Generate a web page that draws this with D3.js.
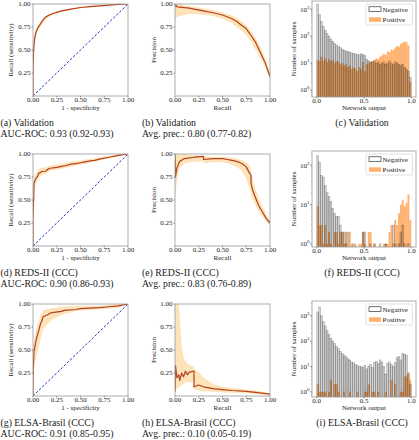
<!DOCTYPE html>
<html><head><meta charset="utf-8">
<script src="https://cdn.jsdelivr.net/npm/d3@7"></script>
<style>
body{margin:0;background:#fff}
svg text{font-family:'Liberation Serif','DejaVu Serif',serif !important;fill:#1a1a1a}
</style>
</head><body>
<svg id="c" width="419" height="440" font-family="Liberation Serif, DejaVu Serif, serif"></svg>
<script>
// ---------- ROC curves ----------
const rocValX  = [0, 0, 0.005, 0.01, 0.02, 0.03, 0.05, 0.07, 0.10, 0.13, 0.17, 0.22, 0.30, 0.40, 0.50, 0.60, 0.70, 0.80, 0.90, 1.00];
const rocValY  = [0, 0.30, 0.45, 0.55, 0.64, 0.69, 0.74, 0.77, 0.82, 0.855, 0.88, 0.90, 0.925, 0.945, 0.962, 0.972, 0.98, 0.988, 0.995, 1.0];
const rocValLo = [0, 0.25, 0.40, 0.50, 0.60, 0.65, 0.70, 0.74, 0.79, 0.83, 0.86, 0.885, 0.91, 0.935, 0.953, 0.965, 0.975, 0.984, 0.992, 1.0];
const rocValHi = [0, 0.35, 0.50, 0.59, 0.67, 0.72, 0.76, 0.79, 0.835, 0.865, 0.89, 0.91, 0.932, 0.952, 0.968, 0.977, 0.984, 0.991, 0.997, 1.0];

const rocRedsX  = [0, 0, 0.01, 0.01, 0.02, 0.035, 0.05, 0.06, 0.08, 0.09, 0.14, 0.15, 0.18, 0.25, 0.30, 0.35, 0.40, 0.45, 0.50, 0.55, 0.60, 0.65, 0.70, 0.80, 0.90, 1.0];
const rocRedsY  = [0, 0.30, 0.60, 0.68, 0.71, 0.74, 0.76, 0.79, 0.80, 0.81, 0.815, 0.83, 0.845, 0.855, 0.865, 0.875, 0.89, 0.895, 0.905, 0.915, 0.925, 0.93, 0.945, 0.965, 0.985, 1.0];
const rocRedsLo = [0, 0.20, 0.50, 0.60, 0.65, 0.69, 0.72, 0.75, 0.76, 0.775, 0.785, 0.80, 0.815, 0.83, 0.84, 0.85, 0.865, 0.875, 0.885, 0.895, 0.905, 0.915, 0.93, 0.95, 0.975, 1.0];
const rocRedsHi = [0, 0.40, 0.68, 0.74, 0.77, 0.80, 0.82, 0.84, 0.845, 0.85, 0.855, 0.865, 0.875, 0.885, 0.895, 0.905, 0.915, 0.92, 0.93, 0.94, 0.945, 0.955, 0.965, 0.98, 0.993, 1.0];

const rocElsaX  = [0, 0, 0.01, 0.03, 0.04, 0.065, 0.08, 0.095, 0.105, 0.12, 0.15, 0.18, 0.22, 0.30, 0.33, 0.45, 0.50, 0.70, 0.80, 0.90, 0.95, 1.0];
const rocElsaY  = [0, 0.20, 0.48, 0.59, 0.64, 0.73, 0.79, 0.82, 0.86, 0.87, 0.88, 0.90, 0.91, 0.92, 0.93, 0.94, 0.95, 0.96, 0.97, 0.98, 0.99, 1.0];
const rocElsaLo = [0, 0.10, 0.30, 0.40, 0.45, 0.55, 0.62, 0.68, 0.72, 0.74, 0.78, 0.81, 0.84, 0.88, 0.89, 0.92, 0.93, 0.94, 0.95, 0.96, 0.98, 1.0];
const rocElsaHi = [0, 0.35, 0.60, 0.70, 0.75, 0.83, 0.88, 0.91, 0.93, 0.935, 0.945, 0.95, 0.96, 0.97, 0.975, 0.98, 0.98, 0.98, 0.99, 1.0, 1.0, 1.0];

// ---------- Precision-recall curves ----------
const prValX  = [0, 0.01, 0.02, 0.05, 0.10, 0.15, 0.20, 0.30, 0.40, 0.50, 0.60, 0.65, 0.70, 0.75, 0.80, 0.85, 0.90, 0.95, 1.0];
const prValY  = [0.97, 0.99, 0.97, 0.965, 0.96, 0.955, 0.945, 0.925, 0.905, 0.88, 0.84, 0.81, 0.77, 0.73, 0.66, 0.58, 0.47, 0.36, 0.21];
const prValLo = [0.80, 0.85, 0.86, 0.87, 0.88, 0.89, 0.89, 0.88, 0.87, 0.84, 0.79, 0.75, 0.71, 0.66, 0.59, 0.50, 0.41, 0.31, 0.19];
const prValHi = [1.0, 1.0, 1.0, 1.0, 0.985, 0.975, 0.97, 0.955, 0.935, 0.91, 0.875, 0.85, 0.81, 0.77, 0.71, 0.63, 0.53, 0.41, 0.25];

const prRedsX  = [0, 0.005, 0.02, 0.05, 0.10, 0.20, 0.30, 0.30, 0.40, 0.50, 0.55, 0.60, 0.65, 0.70, 0.75, 0.78, 0.80, 0.80, 0.82, 0.85, 0.88, 0.92, 0.96, 1.0];
const prRedsY  = [1.0, 0.75, 0.85, 0.92, 0.95, 0.965, 0.975, 0.94, 0.95, 0.95, 0.94, 0.93, 0.92, 0.90, 0.86, 0.80, 0.77, 0.68, 0.60, 0.52, 0.44, 0.37, 0.30, 0.25];
const prRedsLo = [0.50, 0.55, 0.70, 0.85, 0.90, 0.915, 0.92, 0.90, 0.91, 0.91, 0.90, 0.88, 0.86, 0.82, 0.73, 0.64, 0.58, 0.55, 0.50, 0.44, 0.38, 0.32, 0.27, 0.22];
const prRedsHi = [1.0, 1.0, 1.0, 1.0, 1.0, 0.985, 0.98, 0.975, 0.97, 0.97, 0.965, 0.96, 0.95, 0.935, 0.91, 0.88, 0.84, 0.80, 0.72, 0.62, 0.52, 0.43, 0.35, 0.27];

const prElsaX  = [0, 0.005, 0.02, 0.04, 0.05, 0.07, 0.09, 0.11, 0.13, 0.15, 0.20, 0.20, 0.25, 0.30, 0.40, 0.50, 0.60, 0.75, 0.85, 1.0];
const prElsaY  = [0.05, 0.33, 0.20, 0.23, 0.17, 0.25, 0.21, 0.27, 0.23, 0.26, 0.27, 0.10, 0.12, 0.10, 0.08, 0.07, 0.06, 0.05, 0.04, 0.02];
const prElsaLo = [0.0, 0.05, 0.08, 0.10, 0.10, 0.12, 0.13, 0.15, 0.15, 0.15, 0.14, 0.07, 0.06, 0.05, 0.045, 0.04, 0.035, 0.03, 0.02, 0.01];
const prElsaHi = [1.0, 1.0, 1.0, 1.0, 0.85, 0.55, 0.42, 0.38, 0.35, 0.34, 0.32, 0.30, 0.26, 0.20, 0.13, 0.10, 0.09, 0.07, 0.06, 0.03];

// ---------- Histograms (50 bins of width 0.02 over [0,1]) ----------
const histValNeg  = [1550, 620, 350, 235, 165, 125, 100, 78, 64, 54, 47, 41, 37, 33, 30, 28, 27, 25, 24, 23, 22, 21, 20, 22, 21, 19, 14, 12, 11, 11, 12, 10, 11, 9, 10, 11, 9, 10, 12, 10, 9, 11, 10, 9, 8, 9, 7, 6, 5, 3];
const histValPos  = [13, 12, 17, 12, 15, 11, 14, 12, 13, 10, 12, 11, 9, 10, 8, 9, 7, 8, 6, 7, 6, 5, 7, 6, 11, 5, 9, 10, 11, 12, 13, 15, 14, 17, 19, 22, 20, 27, 25, 32, 30, 37, 44, 40, 52, 58, 62, 60, 45, 2];
const histRedsNeg = [175, 120, 55, 50, 30, 20, 16, 12, 8, 6, 5, 5, 3, 2, 2, 1, 2, 0, 0, 1, 0, 0, 0, 0, 2, 2, 0, 0, 1, 0, 1, 0, 0, 1, 0, 0, 1, 0, 0, 0, 3, 1, 0, 1, 2, 3, 1, 0, 1, 0];
const histRedsPos = [9, 3, 3, 1, 3, 1, 2, 1, 0, 2, 2, 1, 2, 2, 1, 2, 0, 2, 1, 0, 1, 0, 1, 1, 2, 1, 0, 2, 2, 0, 1, 0, 0, 0, 0, 1, 1, 1, 2, 3, 1, 4, 3, 6, 10, 13, 9, 11, 18, 4];
const histElsaNeg = [1400, 2200, 1000, 600, 400, 260, 180, 130, 100, 80, 62, 50, 40, 33, 28, 24, 20, 18, 15, 14, 12, 11, 10, 10, 9, 11, 8, 10, 12, 9, 14, 16, 13, 18, 15, 10, 5, 13, 15, 12, 10, 14, 22, 25, 18, 32, 30, 28, 5, 2];
const histElsaPos = [2, 1, 1, 1, 1, 0, 1, 3, 0, 2, 2, 1, 0, 0, 1, 0, 0, 1, 0, 0, 0, 1, 0, 0, 0, 1, 1, 2, 0, 1, 1, 0, 1, 0, 0, 0, 1, 0, 0, 3, 0, 2, 0, 0, 1, 1, 4, 4, 6, 3];
const binStarts = d3.range(50).map(i => i / 50);

// ---------- Texts / ticks ----------
const unitTicks = [0, 0.25, 0.5, 0.75, 1];
const histXTicks = [0, 0.5, 1];
const legendLabels = ["Negative", "Positive"];
const captionsRoc  = [["(a) Validation", "AUC-ROC: 0.93 (0.92-0.93)"], ["(d) REDS-II (CCC)", "AUC-ROC: 0.90 (0.86-0.93)"], ["(g) ELSA-Brasil (CCC)", "AUC-ROC: 0.91 (0.85-0.95)"]];
const captionsPr   = [["(b) Validation", "Avg. prec.: 0.80 (0.77-0.82)"], ["(e) REDS-II (CCC)", "Avg. prec.: 0.83 (0.76-0.89)"], ["(h) ELSA-Brasil (CCC)", "Avg. prec.: 0.10 (0.05-0.19)"]];
const captionsHist = ["(c) Validation", "(f) REDS-II (CCC)", "(i) ELSA-Brasil (CCC)"];
const histYDomains = [[0.55, 2000], [0.83, 230], [0.62, 3800]];

const rocData = [[rocValX, rocValY, rocValLo, rocValHi], [rocRedsX, rocRedsY, rocRedsLo, rocRedsHi], [rocElsaX, rocElsaY, rocElsaLo, rocElsaHi]];
const prData  = [[prValX, prValY, prValLo, prValHi], [prRedsX, prRedsY, prRedsLo, prRedsHi], [prElsaX, prElsaY, prElsaLo, prElsaHi]];
const histData = [[histValNeg, histValPos], [histRedsNeg, histRedsPos], [histElsaNeg, histElsaPos]];

// ---------- Style ----------
const FONT = "'Liberation Serif', 'DejaVu Serif', serif";
const LINE = "#b5401c", BAND = "#fcd08a", DIAG = "#2a2ac4", ORANGE = "#ff7f0e", FRAME = "#9a9a9a";
const svg = d3.select("#c");
const fmt2 = d3.format(".2f"), fmt1 = d3.format(".1f");
function txt(g, x, y, s, size, anchor) {
  return g.append("text").attr("x", x).attr("y", y).attr("font-size", size)
    .attr("text-anchor", anchor || "start").style("font-family", FONT).text(s);
}

function curvePanel(row, x0, x1, data, xlabel, ylabel, ylabelX, diag, caps, capX) {
  const top = 4 + 150 * row, bot = 96 + 150 * row;
  const x = d3.scaleLinear().domain([0, 1]).range([x0, x1]);
  const y = d3.scaleLinear().domain([0, 1]).range([bot, top]);
  const g = svg.append("g");
  const cid = "clip" + row + "_" + x0;
  svg.append("clipPath").attr("id", cid).append("rect").attr("x", x0).attr("y", top).attr("width", x1 - x0).attr("height", bot - top);
  const [xs, ys, lo, hi] = data;
  const idx = d3.range(xs.length);
  const inner = g.append("g").attr("clip-path", `url(#${cid})`);
  inner.append("path").datum(idx)
    .attr("d", d3.area().x(i => x(xs[i])).y0(i => y(lo[i])).y1(i => y(hi[i])))
    .attr("fill", BAND).attr("fill-opacity", 0.6);
  if (diag) {
    inner.append("path").datum([0, 1])
      .attr("d", d3.line().x(d => x(d)).y(d => y(d)))
      .attr("stroke", DIAG).attr("stroke-width", 1).attr("stroke-dasharray", "2.5,1.8").attr("fill", "none");
  }
  inner.append("path").datum(idx)
    .attr("d", d3.line().x(i => x(xs[i])).y(i => y(ys[i])))
    .attr("stroke", LINE).attr("stroke-width", 1.2).attr("fill", "none").attr("stroke-linejoin", "round");
  g.append("rect").attr("x", x0).attr("y", top).attr("width", x1 - x0).attr("height", bot - top)
    .attr("fill", "none").attr("stroke", FRAME).attr("stroke-width", 0.8);
  unitTicks.forEach(t => {
    g.append("line").attr("x1", x(t)).attr("x2", x(t)).attr("y1", bot).attr("y2", bot + 1.5).attr("stroke", "#555").attr("stroke-width", 0.6);
    txt(g, x(t), bot + 6.3, fmt2(t), 7, "middle");
    if (t > 0) {
      g.append("line").attr("x1", x0 - 1.5).attr("x2", x0).attr("y1", y(t)).attr("y2", y(t)).attr("stroke", "#555").attr("stroke-width", 0.6);
      txt(g, x0 - 2.5, y(t) + 2.4, fmt2(t), 7, "end");
    }
  });
  txt(g, (x0 + x1) / 2, bot + 13.5, xlabel, 7, "middle");
  txt(g, 0, 0, ylabel, 7, "middle").attr("x", null).attr("y", null)
    .attr("transform", `translate(${ylabelX},${(top + bot) / 2}) rotate(-90)`);
  txt(g, capX, 126 + 150 * row, caps[0], 9.8);
  txt(g, capX, 137 + 150 * row, caps[1], 9.8);
}

function histPanel(row) {
  const top = 1 + 150 * row, bot = 97 + 150 * row, x0 = 312, x1 = 416;
  const x = d3.scaleLinear().domain([-0.05, 1.05]).range([x0, x1]);
  const y = d3.scaleLog().domain(histYDomains[row]).range([bot, top]);
  const g = svg.append("g");
  const cid = "hclip" + row;
  svg.append("clipPath").attr("id", cid).append("rect").attr("x", x0).attr("y", top).attr("width", x1 - x0).attr("height", bot - top);
  const inner = g.append("g").attr("clip-path", `url(#${cid})`);
  const [neg, pos] = histData[row];
  const bw = x(0.02) - x(0);
  inner.selectAll(".p").data(binStarts.map((b, i) => [b, pos[i]]).filter(d => d[1] > 0)).join("rect")
    .attr("x", d => x(d[0])).attr("width", bw).attr("y", d => y(d[1])).attr("height", d => bot - y(d[1]))
    .attr("fill", ORANGE).attr("fill-opacity", 0.6);
  inner.selectAll(".n").data(binStarts.map((b, i) => [b, neg[i]]).filter(d => d[1] > 0)).join("rect")
    .attr("x", d => x(d[0])).attr("width", bw).attr("y", d => y(d[1])).attr("height", d => bot - y(d[1]) + 2)
    .attr("fill", "#000").attr("fill-opacity", 0.18).attr("stroke", "#000").attr("stroke-opacity", 0.35).attr("stroke-width", 0.45);
  g.append("rect").attr("x", x0).attr("y", top).attr("width", x1 - x0).attr("height", bot - top)
    .attr("fill", "none").attr("stroke", FRAME).attr("stroke-width", 0.8);
  histXTicks.forEach(t => {
    g.append("line").attr("x1", x(t)).attr("x2", x(t)).attr("y1", bot).attr("y2", bot + 1.5).attr("stroke", "#555").attr("stroke-width", 0.6);
    txt(g, x(t), bot + 6.3, fmt1(t), 7, "middle");
  });
  const [dlo, dhi] = histYDomains[row];
  for (let k = Math.ceil(Math.log10(dlo)); k <= Math.floor(Math.log10(dhi)); k++) {
    const yy = y(Math.pow(10, k));
    g.append("line").attr("x1", x0 - 2).attr("x2", x0).attr("y1", yy).attr("y2", yy).attr("stroke", "#555").attr("stroke-width", 0.6);
    const t = txt(g, x0 - 2.5, yy + 2.4, "", 7, "end");
    t.append("tspan").text("10");
    t.append("tspan").attr("font-size", 5).attr("dy", -3).text(k);
  }
  for (let k = Math.floor(Math.log10(dlo)); k <= Math.floor(Math.log10(dhi)); k++) {
    for (let m = 2; m <= 9; m++) {
      const v = m * Math.pow(10, k);
      if (v < dlo || v > dhi) continue;
      g.append("line").attr("x1", x0 - 1).attr("x2", x0).attr("y1", y(v)).attr("y2", y(v)).attr("stroke", "#777").attr("stroke-width", 0.4);
    }
  }
  txt(g, (x0 + x1) / 2, bot + 13, "Network output", 7, "middle");
  txt(g, 0, 0, "Number of samples", 7, "middle").attr("x", null).attr("y", null)
    .attr("transform", `translate(296,${(top + bot) / 2}) rotate(-90)`);
  const ly = top + 3;
  g.append("rect").attr("x", 366).attr("y", ly).attr("width", 46.5).attr("height", 21).attr("rx", 1.5)
    .attr("fill", "#fff").attr("fill-opacity", 0.8).attr("stroke", "#ccc").attr("stroke-width", 0.6);
  g.append("rect").attr("x", 369).attr("y", ly + 2.8).attr("width", 12).attr("height", 4.5)
    .attr("fill", "#fff").attr("stroke", "#111").attr("stroke-width", 0.6);
  g.append("rect").attr("x", 369).attr("y", ly + 13.3).attr("width", 12).attr("height", 4.5)
    .attr("fill", ORANGE).attr("fill-opacity", 0.6);
  txt(g, 382.5, ly + 7.6, legendLabels[0], 7);
  txt(g, 382.5, ly + 18.1, legendLabels[1], 7);
  txt(g, 362, 126 + 150 * row, captionsHist[row], 9.8, "middle");
}

for (let r = 0; r < 3; r++) {
  curvePanel(r, 33, 128, rocData[r], "1 - specificity", "Recall (sensitivity)", 13, true, captionsRoc[r], 0.5);
  curvePanel(r, 175, 270, prData[r], "Recall", "Precision", 156, false, captionsPr[r], 142);
  histPanel(r);
}
</script>
</body></html>
